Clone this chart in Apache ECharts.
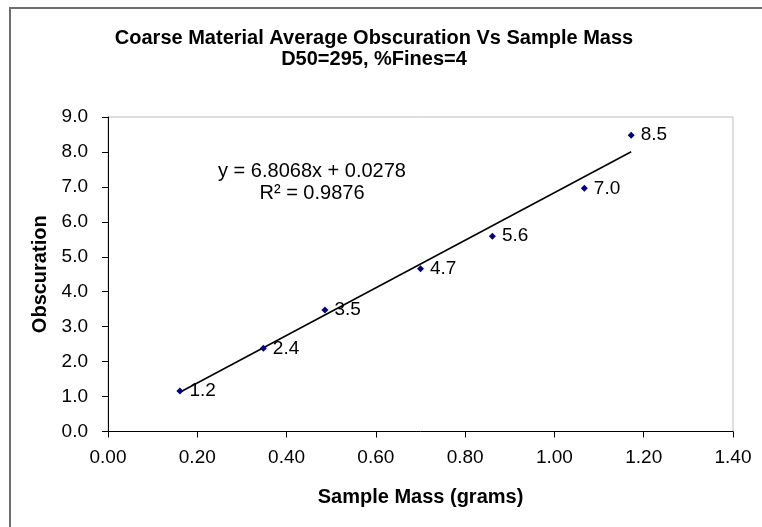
<!DOCTYPE html>
<html>
<head>
<meta charset="utf-8">
<script src="https://cdn.jsdelivr.net/npm/echarts@6/dist/echarts.min.js"></script>
<style>html,body{margin:0;padding:0;background:#fff;}#c{width:762px;height:527px;}</style>
</head>
<body>
<div id="c"></div>
<script>
const sampleMass = [0.161, 0.348, 0.486, 0.700, 0.861, 1.067, 1.172];
const obscuration = [1.16, 2.38, 3.48, 4.66, 5.59, 6.96, 8.48];
const trendSlope = 6.8068;
const trendIntercept = 0.0278;
const xTicks = [0, 0.2, 0.4, 0.6, 0.8, 1.0, 1.2, 1.4];
const yTicks = [0, 1, 2, 3, 4, 5, 6, 7, 8, 9];
const titleLines = ['Coarse Material Average Obscuration Vs Sample Mass', 'D50=295, %Fines=4'];
const equationLines = ['y = 6.8068x + 0.0278', 'R\u00b2 = 0.9876'];

const FONT = '"Liberation Sans", Arial, sans-serif';
const points = sampleMass.map((x, i) => [x, obscuration[i]]);
const xMin = Math.min(...sampleMass), xMax = Math.max(...sampleMass);
const trend = [[xMin, trendSlope * xMin + trendIntercept], [xMax, trendSlope * xMax + trendIntercept]];

const chart = echarts.init(document.getElementById('c'), null, {renderer: 'canvas'});
chart.setOption({
  animation: false,
  backgroundColor: '#fff',
  textStyle: {fontFamily: FONT},
  title: [
    {text: titleLines.join('\n'), left: 369, top: 23, textAlign: 'center',
     textStyle: {fontFamily: FONT, fontSize: 20, fontWeight: 'bold', color: '#000', lineHeight: 21}},
    {text: equationLines.join('\n'), left: 307, top: 155, textAlign: 'center',
     textStyle: {fontFamily: FONT, fontSize: 20, fontWeight: 'normal', color: '#000', lineHeight: 22}}
  ],
  graphic: [
    {type: 'rect', shape: {x: 10, y: 8, width: 800, height: 600}, style: {fill: null, stroke: '#6e6e6e', lineWidth: 2}, z: -1}
  ],
  grid: {left: 108, right: 29, top: 117, bottom: 95.5, show: true, borderColor: '#bdbdbd', borderWidth: 1, backgroundColor: 'transparent'},
  xAxis: {
    type: 'value', min: xTicks[0], max: xTicks[xTicks.length - 1], interval: xTicks[1] - xTicks[0],
    name: 'Sample Mass (grams)', nameLocation: 'middle', nameGap: 56,
    nameTextStyle: {fontFamily: FONT, fontSize: 20, fontWeight: 'bold', color: '#000'},
    axisLine: {show: true, onZero: false, lineStyle: {color: '#000', width: 1}},
    axisTick: {show: true, inside: false, length: 6, lineStyle: {color: '#000'}},
    axisLabel: {fontFamily: FONT, fontSize: 19, color: '#000', margin: 17, formatter: v => v.toFixed(2)},
    splitLine: {show: false}
  },
  yAxis: {
    type: 'value', min: yTicks[0], max: yTicks[yTicks.length - 1], interval: yTicks[1] - yTicks[0],
    name: 'Obscuration', nameLocation: 'middle', nameGap: 58, nameRotate: 90,
    nameTextStyle: {fontFamily: FONT, fontSize: 20, fontWeight: 'bold', color: '#000'},
    axisLine: {show: true, onZero: false, lineStyle: {color: '#000', width: 1}},
    axisTick: {show: true, inside: false, length: 6, lineStyle: {color: '#000'}},
    axisLabel: {fontFamily: FONT, fontSize: 19, color: '#000', margin: 20, formatter: v => v.toFixed(1)},
    splitLine: {show: false}
  },
  series: [
    {type: 'line', data: trend, symbol: 'none', lineStyle: {color: '#000', width: 1.5}, silent: true, z: 2},
    {type: 'scatter', data: points, symbol: 'diamond', symbolSize: 7, itemStyle: {color: '#000080', opacity: 1}, z: 3,
     label: {show: true, position: 'right', distance: 6, fontFamily: FONT, fontSize: 19, color: '#000',
             opacity: 1, textBorderWidth: 0, formatter: p => p.value[1].toFixed(1)}}
  ]
});
</script>
</body>
</html>
